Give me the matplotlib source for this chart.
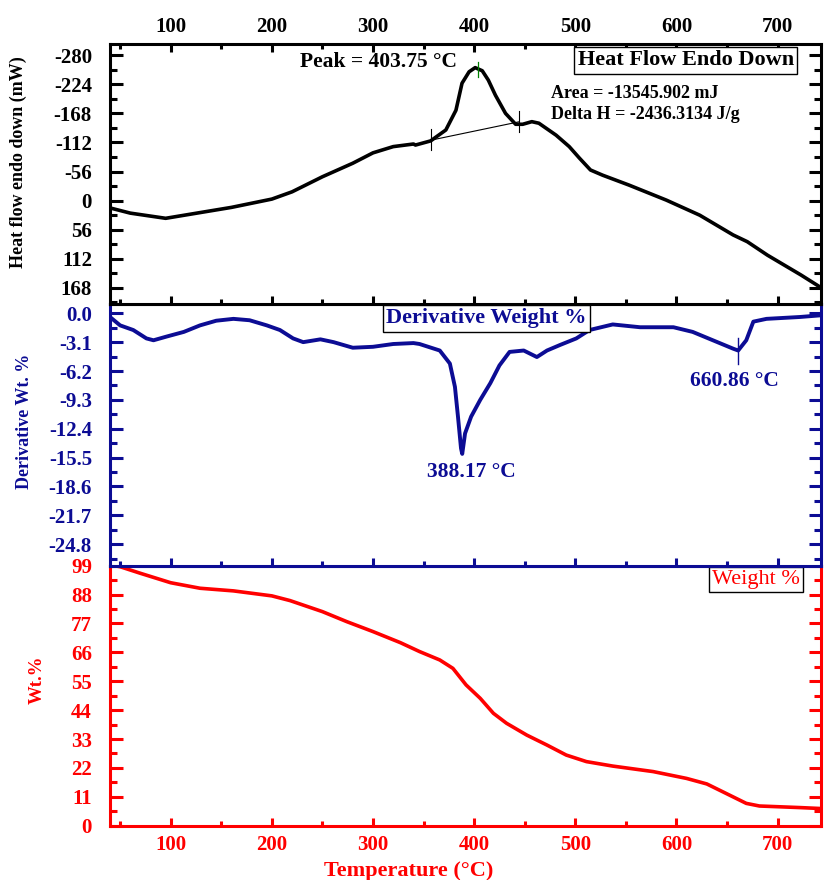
import matplotlib
matplotlib.use("Agg")
import matplotlib.pyplot as plt
from matplotlib.ticker import MultipleLocator, FormatStrFormatter

plt.rcParams['font.family'] = ['Liberation Serif', 'DejaVu Serif']
plt.rcParams['font.weight'] = 'bold'
plt.rcParams['axes.unicode_minus'] = False

NAVY = '#0c0c94'
RED = '#ff0000'

# Heat flow (DSC) curve, endo down
heat_T = [40, 60, 95, 129, 160, 200, 220, 250, 280, 300, 320, 340, 342, 357, 372, 382,
          388, 395, 401, 408, 414, 421, 431, 441, 448, 457, 464, 481, 494, 504, 515, 527,
          553, 590, 623, 656, 670, 690, 723, 745]
heat_v = [14, 24, 34, 23, 13, -3, -17, -46, -72, -92, -104, -109, -107, -115, -136, -174,
          -226, -248, -256, -250, -232, -203, -168, -147, -147, -152, -149, -126, -104, -82, -59, -49,
          -30, -1, 28, 66, 79, 105, 143, 170]

# Derivative weight curve
der_T = [40, 50, 63, 76, 83, 96, 113, 129, 145, 162, 178, 195, 208, 221, 231, 248, 261, 280,
         300, 320, 340, 346, 366, 376, 381, 384, 387, 388.2, 391, 397, 406, 416, 425, 435, 449,
         462, 472, 485, 501, 514, 537, 564, 597, 616, 636, 656, 661, 669, 676, 689, 722, 745]
der_v = [-0.4, -1.3, -1.8, -2.7, -2.9, -2.5, -2.0, -1.3, -0.8, -0.6, -0.75, -1.3, -1.8, -2.7,
         -3.1, -2.8, -3.1, -3.7, -3.6, -3.3, -3.2, -3.3, -4.0, -5.4, -7.9, -11.1, -14.5, -15.1,
         -12.9, -11.1, -9.3, -7.5, -5.6, -4.15, -4.0, -4.7, -4.0, -3.4, -2.7, -1.8, -1.2, -1.5,
         -1.5, -2.0, -2.9, -3.8, -4.0, -2.9, -0.9, -0.6, -0.4, -0.2]

# Weight % curve
wt_T = [40, 50, 70, 100, 129, 162, 200, 218, 250, 274, 300, 327, 346, 366, 379, 392, 406, 419,
        432, 452, 472, 491, 511, 537, 577, 610, 630, 649, 669, 682, 722, 745]
wt_v = [99.3, 98.6, 96.1, 92.5, 90.4, 89.4, 87.5, 85.7, 81.5, 77.7, 73.9, 69.7, 66.3, 63.1,
        59.9, 53.6, 48.5, 42.8, 39.0, 34.5, 30.7, 26.9, 24.4, 22.7, 20.6, 18.0, 15.9, 12.3,
        8.5, 7.5, 6.9, 6.5]

# Peak integration
peak_T = 403.75
base_T = [357.5, 444.5]
base_v = [-116.5, -151.8]
dtg_peaks = [388.17, 660.86]

xlim = (40, 743)

fig = plt.figure(figsize=(8.24, 8.8), dpi=100)
L, W = 0.1335, 0.863
ax3 = fig.add_axes([L, 0.0617, W, 0.2955])
ax2 = fig.add_axes([L, 0.3572, W, 0.2974])
ax1 = fig.add_axes([L, 0.6545, W, 0.2958])


def style(ax, color, spines):
    for name, sp in ax.spines.items():
        sp.set_linewidth(2.2)
        sp.set_color(spines.get(name, color))
    ax.set_xlim(*xlim)
    ax.xaxis.set_major_locator(MultipleLocator(100))
    ax.xaxis.set_minor_locator(MultipleLocator(50))
    ax.tick_params(axis='x', which='major', direction='in', length=6, width=2.2, color=color,
                   labelsize=15, labelcolor=color)
    ax.tick_params(axis='x', which='minor', direction='in', length=3.5, width=2.2, color=color)
    ax.tick_params(axis='y', which='major', direction='in', length=9, width=2.2, color=color,
                   labelsize=15, labelcolor=color, pad=13, left=True, right=True)
    ax.tick_params(axis='y', which='minor', direction='in', length=5, width=2.2, color=color,
                   left=True, right=True)


# --- top: heat flow
style(ax1, 'black', {})
ax1.plot(heat_T, heat_v, color='black', lw=2.6)
ax1.plot(base_T, base_v, color='black', lw=0.8)
for t, v in zip(base_T, base_v):
    ax1.plot([t, t], [v - 21, v + 19], color='black', lw=0.8)
ax1.plot([peak_T, peak_T], [-267, -238], color='green', lw=0.9)
ax1.set_ylim(199, -302)
ax1.yaxis.set_major_locator(MultipleLocator(56))
ax1.yaxis.set_minor_locator(MultipleLocator(28))
ax1.tick_params(axis='x', which='both', top=True, bottom=True, labeltop=True, labelbottom=False,
                pad=5)
ax1.set_ylabel('Heat flow endo down (mW)', fontsize=13, fontweight='bold')
ax1.yaxis.set_label_coords(-0.117, 0.546)
ax1.text(305, -266, 'Peak = 403.75 °C', fontsize=15.5, ha='center', va='center')
ax1.text(609, -270, 'Heat Flow Endo Down', fontsize=16, ha='center', va='center',
         bbox=dict(boxstyle='square,pad=0.15', fc='white', ec='black', lw=1))
ax1.text(476, -207, 'Area = -13545.902 mJ', fontsize=13, ha='left', va='center')
ax1.text(476, -166, 'Delta H = -2436.3134 J/g', fontsize=13, ha='left', va='center')

# --- middle: derivative weight
style(ax2, NAVY, {'top': 'black'})
ax2.plot(der_T, der_v, color=NAVY, lw=2.8)
ax2.plot([dtg_peaks[1], dtg_peaks[1]], [-2.7, -5.4], color=NAVY, lw=1)
ax2.set_ylim(-27.1, 1.0)
ax2.yaxis.set_major_locator(MultipleLocator(3.1))
ax2.yaxis.set_minor_locator(MultipleLocator(1.55))
ax2.yaxis.set_major_formatter(FormatStrFormatter('%.1f'))
ax2.tick_params(axis='x', which='both', top=False, bottom=True, labelbottom=False)
ax2.set_ylabel('Derivative Wt. %', fontsize=13, fontweight='bold', color=NAVY)
ax2.yaxis.set_label_coords(-0.108, 0.55)
ax2.text(397, -17.0, '388.17 °C', fontsize=15.5, ha='center', va='center', color=NAVY)
ax2.text(657.6, -7.3, '660.86 °C', fontsize=15.5, ha='center', va='center', color=NAVY)
ax2.text(412, -0.55, 'Derivative Weight %', fontsize=16, ha='center', va='center', color=NAVY,
         bbox=dict(boxstyle='square,pad=0.15', fc='white', ec='black', lw=1))

# --- bottom: weight %
style(ax3, RED, {'top': NAVY})
ax3.plot(wt_T, wt_v, color=RED, lw=2.6)
ax3.set_ylim(0, 99)
ax3.yaxis.set_major_locator(MultipleLocator(11))
ax3.yaxis.set_minor_locator(MultipleLocator(5.5))
ax3.tick_params(axis='x', which='both', top=False, bottom=True, labelbottom=True, pad=7)
ax3.set_ylabel('Wt.%', fontsize=13.5, fontweight='bold', color=RED)
ax3.yaxis.set_label_coords(-0.091, 0.56)
ax3.set_xlabel('Temperature (°C)', fontsize=16, fontweight='bold', color=RED)
ax3.xaxis.set_label_coords(0.42, -0.135)
ax3.text(678.7, 93.7, 'Weight %', fontsize=16, fontweight='normal', ha='center', va='center',
         color=RED, bbox=dict(boxstyle='square,pad=0.15', fc='white', ec='black', lw=1))

fig.savefig('out.png', dpi=100)
